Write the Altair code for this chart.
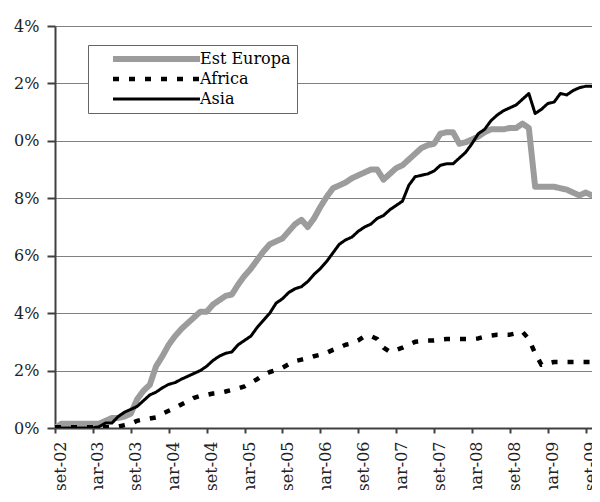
import altair as alt
import pandas as pd

series_names = ["Est Europa", "Africa", "Asia"]

tick_labels = ["set-02", "mar-03", "set-03", "mar-04", "set-04", "mar-05", "set-05",
               "mar-06", "set-06", "mar-07", "set-07", "mar-08", "set-08", "mar-09", "set-09"]

# monthly values (%), Sep 2002 .. Nov 2009
est_europa = [0.0, 0.15, 0.15, 0.15, 0.15, 0.15, 0.15, 0.15, 0.25, 0.35,
              0.35, 0.4, 0.5, 1.0, 1.3, 1.5, 2.15, 2.5, 2.9, 3.2,
              3.45, 3.65, 3.85, 4.05, 4.05, 4.3, 4.45, 4.6, 4.65, 5.0,
              5.3, 5.55, 5.85, 6.15, 6.4, 6.5, 6.6, 6.85, 7.1, 7.25,
              7.0, 7.3, 7.7, 8.05, 8.35, 8.45, 8.55, 8.7, 8.8, 8.9,
              9.0, 9.0, 8.65, 8.85, 9.05, 9.15, 9.35, 9.55, 9.75, 9.85,
              9.9, 10.25, 10.3, 10.3, 9.9, 9.95, 10.05, 10.15, 10.3, 10.4,
              10.4, 10.4, 10.45, 10.45, 10.6, 10.45, 8.4, 8.4, 8.4, 8.4,
              8.35, 8.3, 8.2, 8.1, 8.2, 8.1, 8.05]

africa = [0.03, 0.03, 0.03, 0.03, 0.03, 0.03, 0.03, 0.03, 0.03, 0.03,
          0.05, 0.1, 0.15, 0.25, 0.3, 0.33, 0.37, 0.5, 0.6, 0.7,
          0.82, 0.93, 1.05, 1.12, 1.15, 1.2, 1.22, 1.27, 1.33, 1.38,
          1.45, 1.58, 1.7, 1.85, 1.95, 2.02, 2.1, 2.22, 2.33, 2.38,
          2.43, 2.5, 2.55, 2.62, 2.72, 2.8, 2.9, 2.95, 3.05, 3.2,
          3.2, 3.1, 2.8, 2.65, 2.72, 2.8, 2.9, 3.0, 3.02, 3.05,
          3.05, 3.08, 3.1, 3.1, 3.1, 3.1, 3.1, 3.12, 3.18, 3.22,
          3.25, 3.25, 3.25, 3.3, 3.35, 3.1, 2.6, 2.2, 2.25, 2.3,
          2.3, 2.3, 2.3, 2.3, 2.3, 2.3, 2.3]

asia = [0.0, 0.0, 0.0, 0.0, 0.0, 0.0, 0.0, 0.05, 0.17, 0.17,
        0.4, 0.55, 0.65, 0.75, 0.95, 1.15, 1.25, 1.4, 1.52, 1.58,
        1.7, 1.8, 1.9, 2.0, 2.15, 2.35, 2.5, 2.6, 2.65, 2.9,
        3.05, 3.2, 3.5, 3.75, 4.0, 4.35, 4.5, 4.72, 4.85, 4.92,
        5.1, 5.35, 5.55, 5.8, 6.1, 6.4, 6.55, 6.65, 6.85, 7.0,
        7.1, 7.3, 7.4, 7.6, 7.75, 7.9, 8.45, 8.75, 8.8, 8.85,
        8.95, 9.15, 9.2, 9.2, 9.4, 9.6, 9.9, 10.25, 10.4, 10.7,
        10.9, 11.05, 11.15, 11.25, 11.45, 11.65, 10.95, 11.1, 11.3, 11.35,
        11.65, 11.6, 11.75, 11.85, 11.9, 11.9, 11.75]

rows = []
for name, vals in zip(series_names, [est_europa, africa, asia]):
    for m, v in enumerate(vals):
        rows.append({"month": m, "value": v, "series": name})
df = pd.DataFrame(rows)

FONT = "DejaVu Serif"

label_array = "[" + ",".join("'%s'" % t for t in tick_labels) + "]"

legend = alt.Legend(
    title=None, orient="none", legendX=33, legendY=19,
    padding=6, strokeColor="#666666", fillColor="white",
    symbolType="stroke", symbolSize=7569, symbolOffset=16,
    labelOffset={"expr": "-3"}, rowPadding=4, clipHeight=16,
    labelExpr="datum.label + '\u00a0\u00a0\u00a0\u00a0'",
    labelFont=FONT, labelFontSize=16, labelColor="#000000",
)

chart = alt.Chart(df).mark_line(clip=True, strokeCap="butt", strokeJoin="round").encode(
    x=alt.X("month:Q",
            scale=alt.Scale(domain=[0, 85], nice=False, zero=False),
            axis=alt.Axis(values=list(range(0, 85, 6)),
                          labelExpr=label_array + "[round(datum.value / 6)]",
                          labelAngle=270, labelAlign="right", labelBaseline="middle",
                          labelOffset=5, labelPadding=8, tickSize=5,
                          grid=False, title=None, labelOverlap=False,
                          labelFlush=False, labelBound=False)),
    y=alt.Y("value:Q",
            scale=alt.Scale(domain=[0, 14], nice=False),
            axis=alt.Axis(values=[0, 2, 4, 6, 8, 10, 12, 14],
                          labelExpr="(round(datum.value) % 10) + '%'",
                          grid=True, gridColor="#808080", gridWidth=1,
                          tickSize=8, labelPadding=8, title=None)),
    color=alt.Color("series:N", scale=alt.Scale(domain=series_names,
                                                range=["#9c9c9c", "#000000", "#000000"]),
                    legend=legend),
    strokeDash=alt.StrokeDash("series:N", scale=alt.Scale(domain=series_names,
                                                          range=[[1, 0], [6, 10], [1, 0]]),
                              legend=legend),
    strokeWidth=alt.StrokeWidth("series:N", scale=alt.Scale(domain=series_names,
                                                            range=[6, 3, 1.75]),
                                legend=legend),
).properties(
    width=537, height=402,
    autosize=alt.AutoSizeParams(type="none"),
    padding={"left": 47, "top": 18, "right": 0, "bottom": 62},
).configure_axis(
    labelFont=FONT, labelFontSize=16, labelColor="#222222",
    domainColor="#404040", domainWidth=2, tickColor="#404040", tickWidth=2,
).configure_view(stroke=None)

chart.save("out.html", embed_options={"renderer": "svg", "actions": False})
